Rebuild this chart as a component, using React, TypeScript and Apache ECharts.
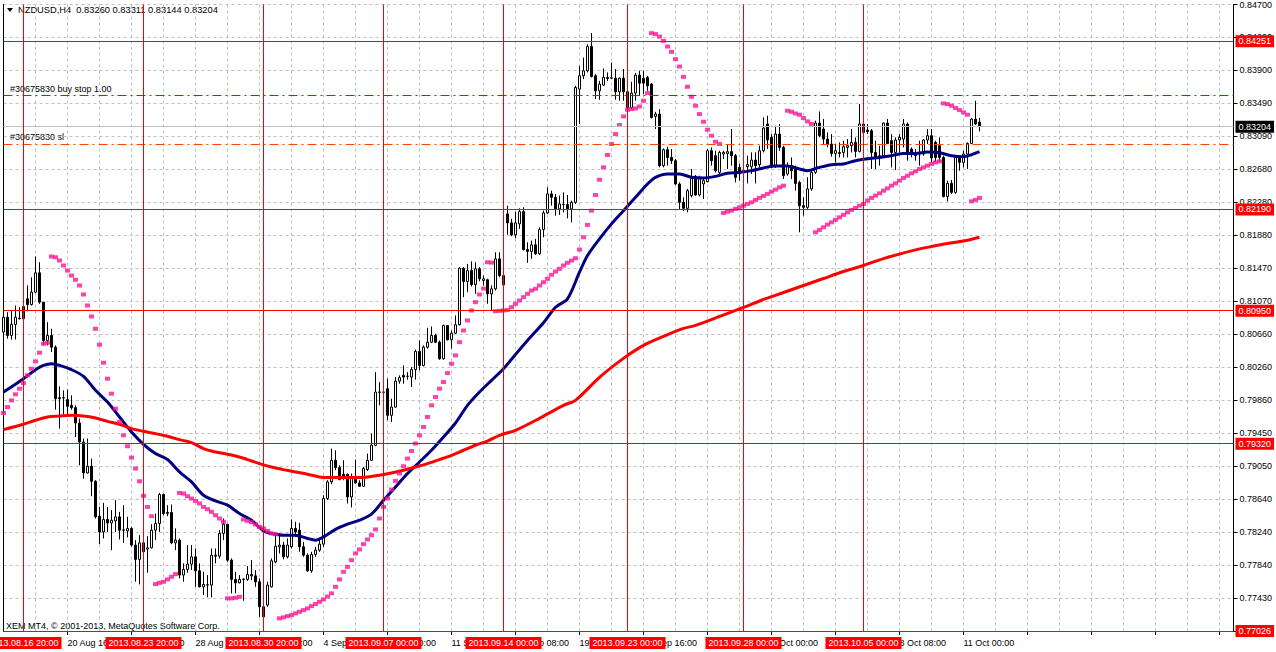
import React, { useEffect, useRef } from "react";
import * as echarts from "echarts";

const TITLE = "NZDUSD,H4  0.83260 0.83311 0.83144 0.83204";
const BUY_STOP_TEXT = "#30675830 buy stop 1.00";
const SL_TEXT = "#30675830 sl";
const COPYRIGHT = "XEM MT4, \u00A9 2001-2013, MetaQuotes Software Corp.";

const Y_MIN = 0.77026;
const Y_STEP = 0.004039;
const Y_TICK_LABELS = ["", "0.77430", "0.77840", "0.78240", "0.78640", "0.79050", "0.79450", "0.79860", "0.80260", "0.80660", "0.81070", "0.81470", "0.81880", "0.82280", "0.82680", "0.83090", "0.83490", "0.83900", "0.84290", "0.84700"];

const X_MAX = 307.5;
const X_LABELS: Record<number, string> = {
  16: "20 Aug 16:00", 32: "23 Aug 08:00", 48: "28 Aug 00:00", 64: "30 Aug 16:00",
  80: "4 Sep 08:00", 96: "9 Sep 00:00", 112: "11 Sep 16:00", 128: "16 Sep 08:00",
  144: "19 Sep 00:00", 160: "23 Sep 16:00", 176: "26 Sep 08:00", 192: "1 Oct 00:00",
  208: "3 Oct 16:00", 224: "8 Oct 08:00", 240: "11 Oct 00:00",
};

// [open, high, low, close] per H4 bar
const BARS: number[][] = [
  [0.80687,0.80891,0.80552,0.80870],[0.80870,0.80931,0.80606,0.80646],[0.80646,0.80952,0.80594,0.80781],[0.80781,0.81013,0.80597,0.80870],
  [0.80858,0.80992,0.80842,0.80851],[0.80851,0.81258,0.80728,0.81001],[0.81095,0.81258,0.80943,0.81025],[0.81025,0.81359,0.81013,0.81176],
  [0.81176,0.81613,0.81164,0.81413],[0.81413,0.81543,0.81034,0.81054],[0.81054,0.81054,0.80524,0.80585],[0.80585,0.80809,0.80524,0.80646],
  [0.80646,0.80728,0.80442,0.80503],[0.80503,0.80524,0.79737,0.79872],[0.79884,0.80022,0.79505,0.79872],[0.79884,0.79974,0.79680,0.79880],
  [0.79860,0.79982,0.79680,0.79778],[0.79790,0.79912,0.79737,0.79762],[0.79762,0.79790,0.79402,0.79574],[0.79574,0.79627,0.79056,0.79341],
  [0.79341,0.79383,0.78893,0.78962],[0.78962,0.79383,0.78955,0.79044],[0.79044,0.79138,0.78677,0.78860],[0.78860,0.78873,0.78404,0.78424],
  [0.78432,0.78546,0.78090,0.78240],[0.78240,0.78595,0.78160,0.78392],[0.78392,0.78546,0.78240,0.78350],[0.78350,0.78506,0.78016,0.78383],
  [0.78375,0.78628,0.78240,0.78424],[0.78424,0.78485,0.78147,0.78261],[0.78261,0.78567,0.78106,0.78265],[0.78252,0.78424,0.78172,0.78282],
  [0.78282,0.78301,0.78057,0.78078],[0.78078,0.78139,0.77629,0.77903],[0.77903,0.78200,0.77597,0.78106],[0.78106,0.78188,0.77976,0.77996],
  [0.78029,0.78188,0.77739,0.78045],[0.78045,0.78334,0.78037,0.78261],[0.78261,0.78465,0.78139,0.78343],[0.78343,0.78717,0.78240,0.78698],
  [0.78698,0.78710,0.78445,0.78465],[0.78465,0.78567,0.78432,0.78478],[0.78478,0.78575,0.78090,0.78106],[0.78106,0.78282,0.78016,0.78139],
  [0.78139,0.78160,0.77670,0.77711],[0.77711,0.77854,0.77629,0.77780],[0.77780,0.78078,0.77739,0.77845],[0.77845,0.78078,0.77772,0.77934],
  [0.77934,0.78037,0.77567,0.77763],[0.77763,0.77854,0.77560,0.77567],[0.77567,0.77751,0.77466,0.77597],[0.77588,0.77711,0.77438,0.77592],
  [0.77588,0.78037,0.77438,0.77955],[0.77955,0.78037,0.77854,0.77943],[0.77943,0.78261,0.77915,0.78221],[0.78221,0.78404,0.78139,0.78334],
  [0.78334,0.78334,0.77873,0.77894],[0.77894,0.77915,0.77487,0.77658],[0.77658,0.77751,0.77487,0.77616],[0.77616,0.77711,0.77609,0.77658],
  [0.77658,0.77670,0.77396,0.77662],[0.77658,0.77821,0.77641,0.77719],[0.77719,0.77894,0.77649,0.77702],[0.77702,0.77772,0.77567,0.77629],
  [0.77629,0.77670,0.77200,0.77323],[0.77323,0.77344,0.77160,0.77200],[0.77344,0.77629,0.77323,0.77588],[0.77567,0.77915,0.77560,0.77886],
  [0.77873,0.78200,0.77854,0.78065],[0.78057,0.78221,0.77976,0.78078],[0.78078,0.78118,0.77903,0.77934],[0.77934,0.78160,0.77915,0.78078],
  [0.78057,0.78392,0.78037,0.78282],[0.78282,0.78363,0.78179,0.78240],[0.78261,0.78350,0.77996,0.78057],[0.78057,0.78118,0.77934,0.77955],
  [0.77955,0.77976,0.77751,0.77763],[0.77763,0.77996,0.77739,0.77964],[0.77964,0.78057,0.77934,0.78016],[0.78016,0.78160,0.77996,0.78090],
  [0.78090,0.78689,0.78057,0.78649],[0.78649,0.78873,0.78628,0.78852],[0.78852,0.79260,0.78824,0.79117],[0.79117,0.79240,0.78995,0.79028],
  [0.79028,0.79056,0.78873,0.78881],[0.78946,0.79117,0.78873,0.78913],[0.78946,0.78954,0.78588,0.78668],[0.78668,0.78954,0.78539,0.78893],
  [0.78893,0.79126,0.78832,0.78840],[0.78840,0.78873,0.78791,0.78799],[0.78799,0.79035,0.78791,0.79016],[0.79003,0.79199,0.78986,0.79117],
  [0.79117,0.79444,0.79109,0.79301],[0.79301,0.80197,0.79289,0.79953],[0.79953,0.80075,0.79790,0.79950],[0.79953,0.79974,0.79933,0.79950],
  [0.79994,0.80117,0.79607,0.79668],[0.79668,0.79872,0.79586,0.79769],[0.79769,0.80136,0.79762,0.80087],[0.80087,0.80157,0.80055,0.80129],
  [0.80157,0.80279,0.80055,0.80136],[0.80145,0.80197,0.80104,0.80148],[0.80136,0.80259,0.80014,0.80227],[0.80227,0.80471,0.80104,0.80451],
  [0.80451,0.80585,0.80218,0.80279],[0.80279,0.80524,0.80267,0.80503],[0.80503,0.80740,0.80484,0.80564],[0.80564,0.80756,0.80552,0.80646],
  [0.80646,0.80667,0.80552,0.80564],[0.80564,0.80585,0.80349,0.80361],[0.80361,0.80777,0.80349,0.80769],[0.80769,0.80769,0.80585,0.80594],
  [0.80594,0.80707,0.80484,0.80674],[0.80674,0.80891,0.80667,0.80777],[0.80777,0.81482,0.80769,0.81469],[0.81469,0.81482,0.81115,0.81307],
  [0.81307,0.81523,0.81176,0.81441],[0.81441,0.81555,0.81246,0.81270],[0.81270,0.81543,0.81156,0.81462],[0.81462,0.81482,0.81310,0.81340],
  [0.81319,0.81380,0.81258,0.81340],[0.81328,0.81340,0.81034,0.81156],[0.81156,0.81258,0.80952,0.81217],[0.81217,0.81665,0.81197,0.81584],
  [0.81584,0.81665,0.81359,0.81380],[0.81380,0.81421,0.81237,0.81266],[0.82135,0.82236,0.81878,0.82025],[0.82025,0.82074,0.81861,0.81878],
  [0.81878,0.82163,0.81836,0.82025],[0.82013,0.82203,0.81951,0.82163],[0.82163,0.82216,0.81686,0.81698],[0.81698,0.81788,0.81536,0.81674],
  [0.81674,0.81808,0.81584,0.81756],[0.81756,0.81829,0.81633,0.81646],[0.81646,0.81971,0.81633,0.81943],[0.81943,0.82175,0.81849,0.82147],
  [0.82147,0.82460,0.82135,0.82380],[0.82380,0.82420,0.82236,0.82338],[0.82338,0.82380,0.82114,0.82196],[0.82196,0.82359,0.82123,0.82257],
  [0.82249,0.82399,0.82154,0.82252],[0.82249,0.82367,0.82081,0.82196],[0.82196,0.82298,0.82032,0.82277],[0.82277,0.83704,0.82257,0.83683],
  [0.83664,0.83949,0.83236,0.83827],[0.83827,0.84050,0.83786,0.83888],[0.83888,0.84214,0.83867,0.84185],[0.84185,0.84349,0.83806,0.83818],
  [0.83827,0.83847,0.83542,0.83643],[0.83643,0.83765,0.83533,0.83725],[0.83713,0.83916,0.83704,0.83806],[0.83806,0.83867,0.83765,0.83794],
  [0.83798,0.83989,0.83786,0.83802],[0.83798,0.83909,0.83533,0.83631],[0.83631,0.83806,0.83521,0.83798],[0.83798,0.83909,0.83521,0.83631],
  [0.83631,0.83664,0.83419,0.83439],[0.83439,0.83753,0.83419,0.83615],[0.83615,0.83860,0.83521,0.83835],[0.83835,0.83888,0.83582,0.83737],
  [0.83794,0.83888,0.83603,0.83737],[0.83806,0.83827,0.83643,0.83704],[0.83725,0.83737,0.83304,0.83317],[0.83329,0.83386,0.83175,0.83358],
  [0.83358,0.83419,0.82705,0.82726],[0.82726,0.82937,0.82705,0.82921],[0.82921,0.82958,0.82726,0.82827],[0.82827,0.82930,0.82747,0.82787],
  [0.82787,0.82808,0.82490,0.82502],[0.82502,0.82521,0.82188,0.82277],[0.82277,0.82338,0.82172,0.82203],[0.82203,0.82441,0.82154,0.82420],
  [0.82359,0.82685,0.82338,0.82570],[0.82595,0.82612,0.82359,0.82367],[0.82367,0.82603,0.82350,0.82570],[0.82502,0.82583,0.82318,0.82542],
  [0.82530,0.82930,0.82521,0.82909],[0.82909,0.82950,0.82726,0.82787],[0.82848,0.82909,0.82644,0.82665],[0.82644,0.82909,0.82624,0.82888],
  [0.82869,0.82909,0.82808,0.82888],[0.82876,0.82991,0.82685,0.82897],[0.82897,0.83175,0.82726,0.82848],[0.82848,0.82869,0.82521,0.82583],
  [0.82705,0.82750,0.82542,0.82624],[0.82665,0.82787,0.82518,0.82640],[0.82713,0.82848,0.82509,0.82738],[0.82713,0.82888,0.82624,0.82795],
  [0.82795,0.82888,0.82509,0.82726],[0.82738,0.82970,0.82705,0.82909],[0.82909,0.83317,0.82888,0.83187],[0.83236,0.83337,0.82930,0.83040],
  [0.83072,0.83113,0.82698,0.82713],[0.82713,0.83215,0.82698,0.83113],[0.83113,0.83236,0.82909,0.82950],[0.82950,0.82970,0.82563,0.82603],
  [0.82624,0.82766,0.82603,0.82726],[0.82726,0.82827,0.82563,0.82665],[0.82705,0.82726,0.82420,0.82509],[0.82521,0.82542,0.81910,0.82236],
  [0.82236,0.82338,0.82114,0.82216],[0.82216,0.82583,0.82196,0.82441],[0.82441,0.82673,0.82420,0.82644],[0.82644,0.83276,0.82624,0.83248],
  [0.83248,0.83390,0.83072,0.83093],[0.83175,0.83297,0.82991,0.83052],[0.83052,0.83133,0.82950,0.82991],[0.82991,0.83113,0.82836,0.82876],
  [0.82876,0.82991,0.82766,0.82909],[0.82876,0.83011,0.82827,0.82888],[0.82888,0.83032,0.82827,0.82958],[0.82950,0.83052,0.82827,0.82970],
  [0.82970,0.83175,0.82888,0.83011],[0.83011,0.83072,0.82827,0.82901],[0.82901,0.83480,0.82888,0.83236],[0.83236,0.83255,0.83113,0.83133],
  [0.83162,0.83236,0.83113,0.83145],[0.83154,0.83175,0.82685,0.82888],[0.82888,0.83032,0.82685,0.82836],[0.82827,0.82970,0.82726,0.82848],
  [0.82848,0.83255,0.82827,0.83248],[0.83248,0.83297,0.82991,0.82998],[0.83032,0.83113,0.82705,0.82888],[0.82888,0.83072,0.82673,0.83040],
  [0.83040,0.83113,0.82888,0.83072],[0.83052,0.83297,0.82950,0.83236],[0.83236,0.83255,0.82787,0.82888],[0.82930,0.82950,0.82827,0.82888],
  [0.82888,0.82930,0.82787,0.82848],[0.82869,0.83032,0.82726,0.82872],[0.82869,0.83052,0.82848,0.83040],[0.83040,0.83175,0.82991,0.83093],
  [0.83093,0.83175,0.82766,0.82820],[0.83011,0.83032,0.82766,0.82827],[0.82970,0.83072,0.82766,0.82827],[0.82827,0.82848,0.82338,0.82347],
  [0.82347,0.82542,0.82289,0.82509],[0.82509,0.82551,0.82380,0.82399],[0.82399,0.82848,0.82380,0.82827],[0.82827,0.82848,0.82665,0.82766],
  [0.82766,0.82909,0.82705,0.82869],[0.82869,0.83011,0.82685,0.82998],[0.82998,0.83309,0.82991,0.83297],[0.83297,0.83521,0.83227,0.83236],
  [0.83260,0.83311,0.83144,0.83204],
];

// Parabolic SAR, one value per bar
const SAR: number[] = [
  0.79696,0.79769,0.79851,0.79925,0.79994,0.80063,0.80157,0.80239,0.80328,0.80435,0.80545,0.80557,
  0.81613,0.81604,0.81564,0.81503,0.81441,0.81380,0.81328,0.81258,0.81148,0.81013,0.80879,0.80728,0.80533,0.80312,0.80117,0.79933,0.79750,0.79586,0.79423,0.79289,0.79150,0.79016,0.78860,0.78681,0.78546,0.78432,
  0.77601,0.77616,0.77629,0.77658,0.77690,0.77723,
  0.78717,0.78710,0.78677,0.78649,0.78619,0.78588,0.78546,0.78518,0.78485,0.78444,0.78404,0.78363,
  0.77426,0.77426,0.77433,0.77445,
  0.78392,0.78375,0.78359,0.78331,0.78301,0.78282,0.78252,0.78221,0.78212,
  0.77181,0.77193,0.77209,0.77221,0.77242,0.77262,0.77282,0.77303,0.77331,0.77356,0.77384,0.77413,0.77448,0.77487,0.77567,0.77658,0.77751,0.77812,0.77894,0.77976,0.78025,0.78090,0.78147,0.78200,0.78270,0.78404,0.78546,0.78649,0.78759,0.78864,0.78955,0.79044,0.79138,0.79231,0.79322,0.79423,0.79525,0.79647,0.79790,0.79892,0.79994,0.80075,0.80185,0.80300,0.80402,0.80564,0.80707,0.80830,0.80952,0.81054,0.81148,0.81221,
  0.81543,0.81539,
  0.80943,0.80948,0.80952,0.80958,0.80992,0.81034,0.81074,0.81115,0.81156,0.81197,0.81217,0.81258,0.81298,0.81340,0.81389,0.81429,0.81462,0.81503,0.81536,0.81564,0.81592,0.81698,0.81849,0.82000,0.82175,0.82367,0.82554,0.82705,0.82857,0.82991,0.83113,0.83224,0.83329,0.83411,0.83419,0.83427,0.83451,0.83521,0.83615,
  0.84349,0.84337,0.84307,0.84255,0.84185,0.84120,0.84031,0.83940,0.83814,0.83692,0.83570,0.83460,0.83358,0.83264,0.83166,0.83093,0.83019,0.82991,
  0.82147,0.82163,0.82175,0.82196,0.82216,0.82236,0.82257,0.82277,0.82306,0.82331,0.82355,0.82380,0.82408,0.82432,0.82460,0.82481,
  0.83399,0.83386,0.83365,0.83350,0.83309,0.83268,0.83236,
  0.81910,0.81939,0.81971,0.82004,0.82032,0.82062,0.82093,0.82123,0.82154,0.82184,0.82208,0.82236,0.82257,0.82298,0.82331,0.82359,0.82387,0.82420,0.82448,0.82481,0.82509,0.82542,0.82575,0.82603,0.82632,0.82656,0.82685,0.82705,0.82726,0.82747,0.82766,0.82778,
  0.83488,0.83480,0.83460,0.83432,0.83407,0.83378,0.83350,
  0.82289,0.82306,0.82331,
];

// moving averages read at sampled bars: [bar, value]
const MA_FAST: number[][] = [
  [0,0.79953],[5,0.80117],[8,0.80227],[10,0.80279],[12,0.80300],[14,0.80279],[17,0.80227],[20,0.80145],[23,0.79974],[26,0.79830],[29,0.79647],[32,0.79463],[35,0.79313],[38,0.79199],[41,0.79126],[44,0.78974],[47,0.78852],[50,0.78689],[53,0.78619],[56,0.78567],[59,0.78465],[62,0.78383],[65,0.78252],[67,0.78221],[70,0.78200],[73,0.78200],[76,0.78160],[78,0.78139],[80,0.78179],[83,0.78270],[86,0.78334],[89,0.78383],[92,0.78457],[95,0.78628],[98,0.78791],[101,0.78955],[104,0.79096],[107,0.79240],[110,0.79402],[113,0.79574],[116,0.79790],[119,0.79953],[122,0.80096],[125,0.80239],[128,0.80414],[131,0.80585],[135,0.80802],[138,0.80992],[141,0.81095],[144,0.81421],[146,0.81625],[149,0.81829],[152,0.82013],[155,0.82175],[158,0.82338],[161,0.82502],[163,0.82583],[166,0.82624],[169,0.82624],[172,0.82583],[175,0.82575],[178,0.82595],[181,0.82632],[184,0.82644],[187,0.82665],[190,0.82698],[193,0.82722],[196,0.82722],[199,0.82685],[201,0.82665],[204,0.82705],[207,0.82738],[210,0.82747],[213,0.82787],[216,0.82811],[219,0.82827],[222,0.82848],[225,0.82876],[228,0.82876],[231,0.82893],[234,0.82885],[237,0.82848],[240,0.82836],[242,0.82860],[244,0.82897],
];
const MA_SLOW: number[][] = [
  [0,0.79493],[5,0.79558],[8,0.79607],[11,0.79647],[14,0.79659],[17,0.79668],[20,0.79659],[23,0.79635],[26,0.79594],[29,0.79558],[32,0.79505],[35,0.79472],[38,0.79444],[41,0.79411],[44,0.79370],[47,0.79334],[50,0.79260],[53,0.79219],[56,0.79191],[59,0.79158],[61,0.79126],[64,0.79077],[67,0.79035],[70,0.79003],[73,0.78974],[76,0.78946],[79,0.78913],[82,0.78906],[85,0.78906],[88,0.78906],[91,0.78913],[94,0.78934],[97,0.78962],[100,0.78995],[103,0.79035],[106,0.79077],[109,0.79126],[112,0.79178],[115,0.79240],[118,0.79301],[121,0.79353],[124,0.79423],[128,0.79484],[134,0.79631],[140,0.79790],[143,0.79851],[149,0.80133],[155,0.80365],[160,0.80524],[165,0.80634],[170,0.80732],[173,0.80769],[179,0.80879],[185,0.80989],[190,0.81087],[195,0.81172],[200,0.81258],[205,0.81344],[210,0.81429],[215,0.81503],[220,0.81588],[228,0.81694],[232,0.81735],[236,0.81772],[240,0.81802],[244,0.81849],
];

const PRICE_LINES = [
  { value: 0.84251, text: "0.84251" },
  { value: 0.82190, text: "0.82190" },
  { value: 0.80950, text: "0.80950" },
  { value: 0.79320, text: "0.79320" },
  { value: 0.77026, text: "0.77026" },
];
const BID = { value: 0.83204, text: "0.83204" };
const BUY_STOP = 0.83590;
const STOP_LOSS = 0.82990;

const V_LINES = [
  { bar: 5, text: "2013.08.16 20:00" },
  { bar: 35, text: "2013.08.23 20:00" },
  { bar: 65, text: "2013.08.30 20:00" },
  { bar: 95, text: "2013.09.07 00:00" },
  { bar: 125, text: "2013.09.14 00:00" },
  { bar: 156, text: "2013.09.23 00:00" },
  { bar: 185, text: "2013.09.28 00:00" },
  { bar: 215, text: "2013.10.05 00:00" },
];

const FONT = "'Liberation Sans', Arial, sans-serif";
const GRID_LINE = { color: "#C0C0C0", width: 1, type: [3, 3] };

function buildOption() {
  const tagLabel = (text: string, bg: string, pos: string, dist: number) => ({
    show: true, position: pos, formatter: text, color: "#ffffff", backgroundColor: bg,
    padding: [1, 3, 1, 3], lineHeight: 10, fontSize: 9, fontFamily: FONT, distance: dist,
  });
  const lineSeries = (name: string, color: string, type: any, data: any[]) => ({
    type: "line", name, data: [], z: 1, silent: true, color,
    markLine: {
      symbol: ["none", "none"], precision: 5, silent: true, animation: false,
      label: { show: false }, emphasis: { disabled: true },
      lineStyle: { color, width: 1, type, opacity: 1 },
      data,
    },
  });
  const redData: any[] = [];
  PRICE_LINES.forEach((p) => redData.push({ yAxis: p.value, label: tagLabel(p.text, "#FF0000", "end", 2) }));
  V_LINES.forEach((v) => redData.push({ xAxis: v.bar, label: tagLabel(v.text, "#FF0000", "start", 6) }));

  return {
    animation: false,
    backgroundColor: "#ffffff",
    grid: { left: 3.5, right: 42.5, top: 4, bottom: 21 },
    xAxis: {
      type: "value", min: 0, max: X_MAX, interval: 16,
      axisLine: { show: true, onZero: false, lineStyle: { color: "#000000", width: 1 } },
      axisTick: { show: true, length: 4, lineStyle: { color: "#000000" } },
      axisLabel: {
        show: true, showMinLabel: false, showMaxLabel: false, align: "left", margin: 7,
        color: "#000000", fontSize: 9, fontFamily: FONT,
        formatter: (v: number) => X_LABELS[Math.round(v)] ?? "",
      },
      splitLine: { show: true, lineStyle: GRID_LINE },
      minorTick: { show: false, splitNumber: 2 },
      minorSplitLine: { show: true, lineStyle: GRID_LINE },
    },
    yAxis: [
      {
        type: "value", position: "right", min: Y_MIN, max: Y_MIN + 19 * Y_STEP, interval: Y_STEP,
        axisLine: { show: true, onZero: false, lineStyle: { color: "#000000", width: 1 } },
        axisTick: { show: true, length: 4, lineStyle: { color: "#000000" } },
        axisLabel: {
          margin: 6, color: "#000000", fontSize: 9, fontFamily: FONT, showMaxLabel: true,
          formatter: (v: number) => Y_TICK_LABELS[Math.round((v - Y_MIN) / Y_STEP)] ?? "",
        },
        splitLine: { show: true, lineStyle: GRID_LINE },
      },
      {
        type: "value", position: "left", min: Y_MIN, max: Y_MIN + 19 * Y_STEP,
        axisLine: { show: true, onZero: false, lineStyle: { color: "#000000", width: 1 } },
        axisTick: { show: false }, axisLabel: { show: false }, splitLine: { show: false },
      },
    ],
    series: [
      lineSeries("buy stop", "#008000", [9, 4, 2, 4], [{ yAxis: BUY_STOP }]),
      lineSeries("stop loss", "#FF4500", [9, 4, 2, 4], [{ yAxis: STOP_LOSS }]),
      lineSeries("bid", "#C0C0C0", "solid", [{ yAxis: BID.value, label: tagLabel(BID.text, "#000000", "end", 2) }]),
      lineSeries("objects", "#FF0000", "solid", redData),
      {
        type: "candlestick", name: "NZDUSD,H4",
        data: BARS.map((b, i) => [i, b[0], b[3], b[2], b[1]]),
        encode: { x: 0, y: [1, 2, 3, 4] },
        barWidth: 3, z: 2,
        itemStyle: { color: "#ffffff", color0: "#000000", borderColor: "#000000", borderColor0: "#000000", borderWidth: 1 },
      },
      {
        type: "line", name: "MA fast", data: MA_FAST, symbol: "none", smooth: 0.3, z: 3,
        lineStyle: { color: "#000080", width: 3 },
      },
      {
        type: "line", name: "MA slow", data: MA_SLOW, symbol: "none", smooth: 0.3, z: 3,
        lineStyle: { color: "#FF0000", width: 3 },
      },
      {
        type: "scatter", name: "Parabolic SAR", data: SAR.map((v, i) => [i, v]), z: 4,
        symbol: "rect", symbolSize: [5, 4],
        itemStyle: { color: "#FF1493" },
      },
    ],
    graphic: [
      { type: "polygon", shape: { points: [[7, 8], [13, 8], [10, 12]] }, style: { fill: "#000000" } },
      { type: "text", x: 18, y: 10, style: { text: TITLE, fill: "#000000", font: `9.3px ${FONT}`, verticalAlign: "middle" } },
      { type: "text", x: 10, y: 89, style: { text: BUY_STOP_TEXT, fill: "#000000", font: `9px ${FONT}`, verticalAlign: "middle" } },
      { type: "text", x: 10, y: 137, style: { text: SL_TEXT, fill: "#000000", font: `9px ${FONT}`, verticalAlign: "middle" } },
      { type: "text", x: 6, y: 626, style: { text: COPYRIGHT, fill: "#000000", font: `9px ${FONT}`, verticalAlign: "middle" } },
    ],
  };
}

export default function App() {
  const ref = useRef<HTMLDivElement>(null);
  useEffect(() => {
    document.body.style.margin = "0";
    const chart = echarts.init(ref.current as HTMLDivElement, undefined, { renderer: "svg" });
    chart.setOption(buildOption() as any);
    return () => chart.dispose();
  }, []);
  return <div ref={ref} style={{ position: "fixed", left: 0, top: 0, width: 1276, height: 652, background: "#ffffff" }} />;
}
